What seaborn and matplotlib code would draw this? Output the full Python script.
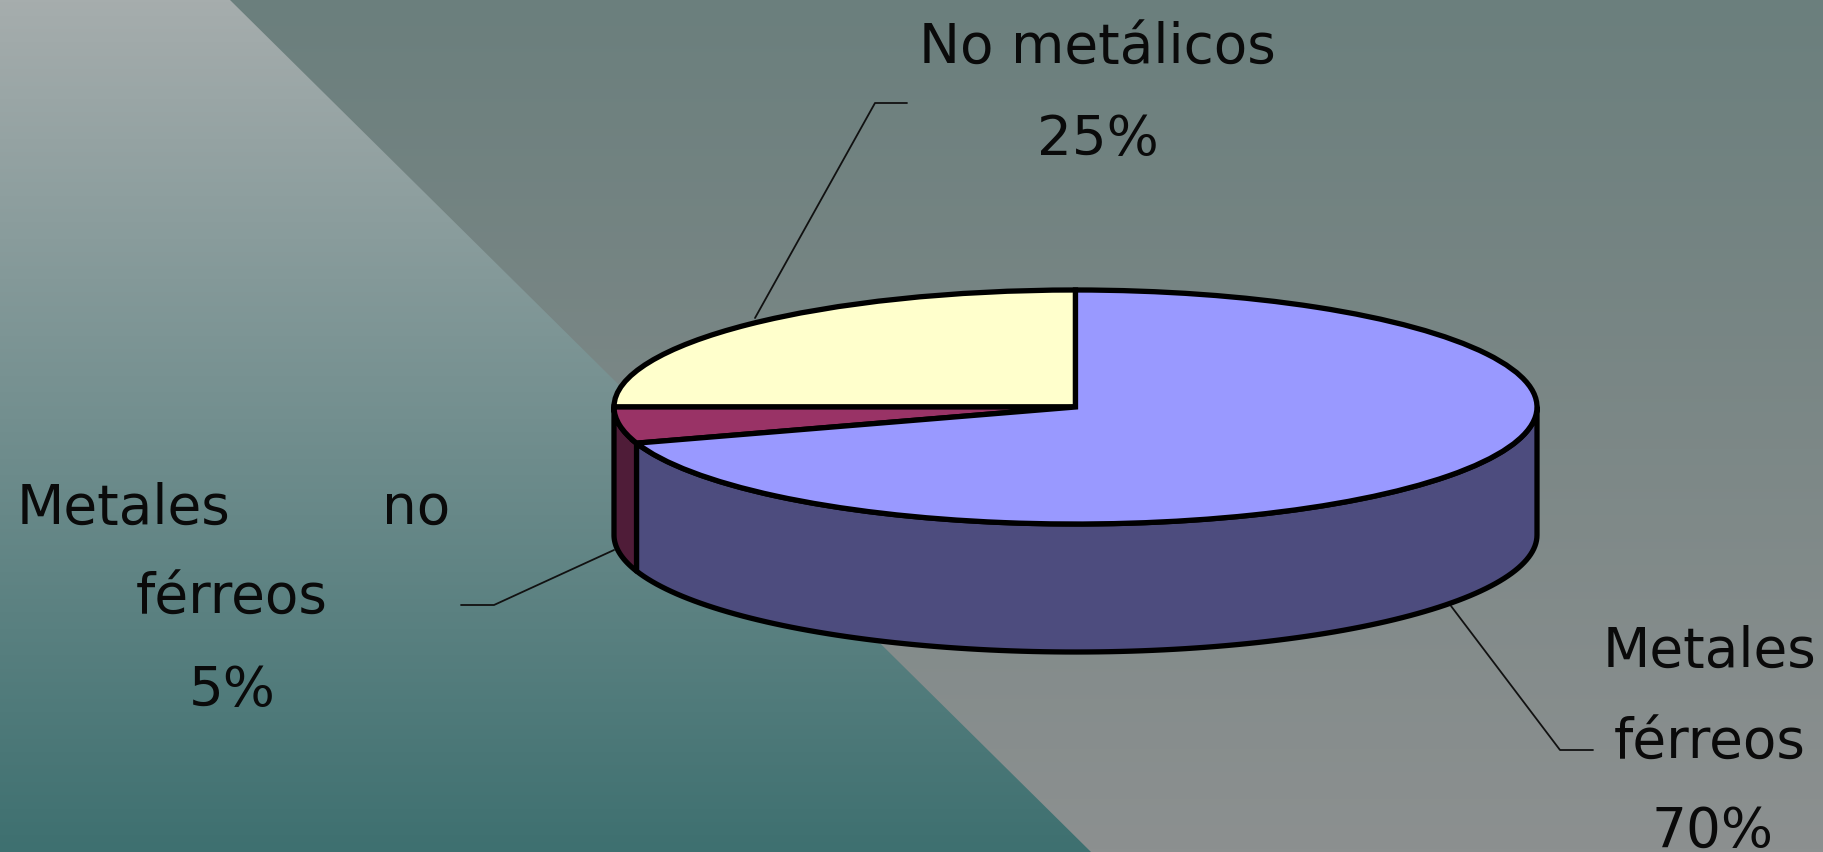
import numpy as np
import matplotlib
matplotlib.use("Agg")
import matplotlib.pyplot as plt
from matplotlib.patches import Polygon
import seaborn as sns

categories = ["No metálicos", "Metales no férreos", "Metales férreos"]
values = [25, 5, 70]
top_colors = ["#FFFFCC", "#993366", "#9999FF"]
side_colors = ["#8A8A6E", "#4F1C38", "#4D4C7E"]

W, H = 1823, 853
sns.set_theme(style="white")
plt.rcParams["font.family"] = ["DejaVu Sans"]

fig = plt.figure(figsize=(W / 100, H / 100), dpi=100)
bg = fig.add_axes([0, 0, 1, 1])
bg.set_xlim(0, W)
bg.set_ylim(H, 0)
bg.axis("off")

# Background: two vertical gradients split by a diagonal
left_pal = sns.blend_palette(["#A6ADAD", "#3E7070"], 256)
right_pal = sns.blend_palette(["#6B7F7D", "#8C9090"], 256)
left_grad = np.array(left_pal)[:, None, :]
right_grad = np.array(right_pal)[:, None, :]
bg.imshow(left_grad, extent=[0, W, H, 0], aspect="auto", zorder=0)
im = bg.imshow(right_grad, extent=[0, W, H, 0], aspect="auto", zorder=1)
clip = Polygon([(229, 0), (W, 0), (W, H), (1091, H)], transform=bg.transData, fc="none", ec="none")
bg.add_patch(clip)
im.set_clip_path(clip)
bg.set_xlim(0, W)
bg.set_ylim(H, 0)

# Leader lines
leaders = [
    [(755, 319), (875, 104), (907, 104)],
    [(614, 551), (494, 606), (461, 606)],
    [(1451, 607), (1560, 751), (1593, 751)],
]
for pts in leaders:
    xs, ys = zip(*pts)
    bg.plot(xs, ys, color="#111111", lw=1.3, zorder=2)

# Text labels
fs = 39.5
labels = [
    ("No metálicos", 1097, 49),
    ("25%", 1098, 140),
    ("Metales", 123, 509),
    ("no", 416, 509),
    ("férreos", 232, 599),
    ("5%", 232, 691),
    ("Metales", 1709, 652),
    ("férreos", 1710, 744),
    ("70%", 1713, 832),
]
for s, x, y in labels:
    bg.text(x, y, s, fontsize=fs, color="#0A0A0A", ha="center", va="center", zorder=5)

# Pie: a real pie drawn in a non-equal axes, so it renders as an ellipse
x0, x1, ytop, ybot = 614, 1537, 291, 653
ry_px = 117
depth = (ybot - ytop - 2 * ry_px) / ry_px
ax = fig.add_axes([x0 / W, 1 - ybot / H, (x1 - x0) / W, (ybot - ytop) / H])
ax.patch.set_alpha(0)
lw = 3.8

bounds = 90 + np.concatenate([[0], np.cumsum(values)]) * 360 / sum(values)
for a, b, col in zip(bounds[:-1], bounds[1:], side_colors):
    lo, hi = max(a, 180), min(b, 360)
    if hi <= lo:
        continue
    t = np.radians(np.linspace(lo, hi, 120))
    xs = np.cos(t)
    ys = np.sin(t)
    pts = np.column_stack([np.r_[xs, xs[::-1]], np.r_[ys, ys[::-1] - depth]])
    ax.add_patch(Polygon(pts, closed=True, fc=col, ec="black", lw=lw, joinstyle="round",
                         clip_on=False, zorder=1))

wedges, _ = ax.pie(values, colors=top_colors, startangle=90, counterclock=True, radius=1,
                   wedgeprops=dict(edgecolor="black", linewidth=lw, clip_on=False, zorder=3))
ax.set_aspect("auto")
ax.set_xlim(-1, 1)
ax.set_ylim(-1 - depth, 1)
ax.axis("off")

fig.savefig("out.png", dpi=100)
